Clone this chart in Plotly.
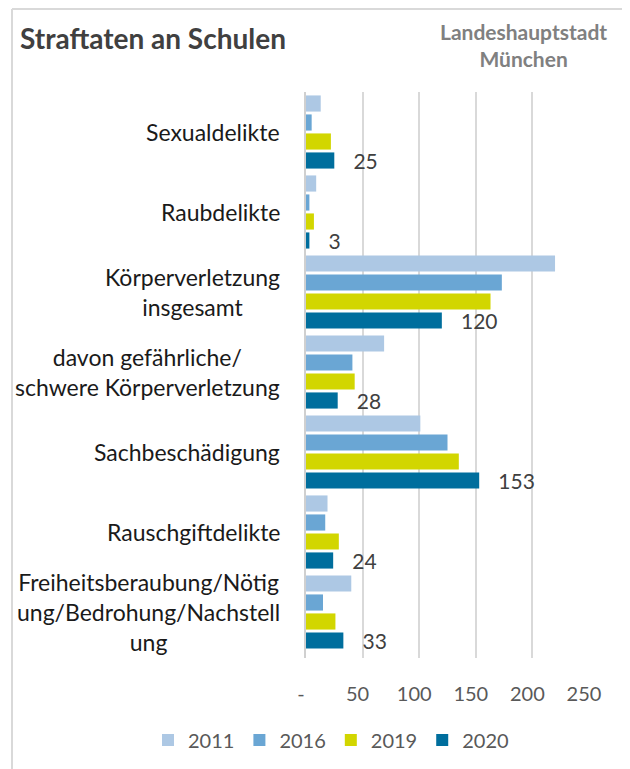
import plotly.graph_objects as go

categories = [
    "Sexualdelikte",
    "Raubdelikte",
    "Körperverletzung<br>insgesamt",
    "davon gefährliche/<br>schwere Körperverletzung",
    "Sachbeschädigung",
    "Rauschgiftdelikte",
    "Freiheitsberaubung/Nötig<br>ung/Bedrohung/Nachstell<br>ung",
]
years = ["2011", "2016", "2019", "2020"]
v2011 = [13, 9, 220, 69, 101, 19, 40]
v2016 = [5, 3, 173, 41, 125, 17, 15]
v2019 = [22, 7, 163, 43, 135, 29, 26]
v2020 = [25, 3, 120, 28, 153, 24, 33]
colors = ["#adc8e4", "#6aa6d4", "#d2d600", "#006e9d"]
x_ticks = [0, 50, 100, 150, 200, 250]
x_ticklabels = ["-", "50", "100", "150", "200", "250"]

font = "Lato, 'Noto Sans', sans-serif"

# page body has an 8px margin, so the figure starts at (8, 8) on screen
OFF = 8
FIG_W, FIG_H = 630 - OFF, 769 - OFF
# plot area in screen pixels (left, right, top, bottom)
L, R, T, B = 306, 589, 92, 658
W, H = R - L, B - T


def px(x):
    return (x - L) / W


def py(y):
    return (B - y) / H


fig = go.Figure()
for year, vals, col in zip(years, [v2011, v2016, v2019, v2020], colors):
    show_text = year == "2020"
    fig.add_trace(go.Bar(
        y=categories, x=vals, name=year, orientation="h",
        marker=dict(color=col, line=dict(width=0)),
        text=["\u00a0\u00a0\u00a0" + str(v) for v in vals] if show_text else None,
        textposition="outside" if show_text else "none",
        textfont=dict(size=21, color="#404040", family=font),
        constraintext="none",
        cliponaxis=False,
    ))

# category labels, centred lines, right-anchored like the original
for cat in categories:
    fig.add_annotation(
        x=px(282), y=cat, xref="paper", yref="y", text=cat,
        xanchor="right", yanchor="middle", align="center", showarrow=False,
        font=dict(size=23, color="#1a1a1a", family=font),
    )

fig.update_layout(
    width=FIG_W, height=FIG_H,
    margin=dict(l=L - OFF, r=FIG_W - (R - OFF), t=T - OFF, b=FIG_H - (B - OFF),
                autoexpand=False),
    paper_bgcolor="white", plot_bgcolor="white",
    barmode="group", bargap=0.05, bargroupgap=0.15,
    font=dict(family=font, color="#595959"),
    showlegend=True,
    legend=dict(
        orientation="h", x=px(148), xanchor="left", y=py(740), yanchor="middle",
        font=dict(size=20, color="#595959"), traceorder="normal",
        itemwidth=30,
    ),
)
fig.update_yaxes(
    autorange="reversed", showticklabels=False, showgrid=False,
    showline=True, linecolor="#d0d0d0", linewidth=2, zeroline=False,
    automargin=False,
)
fig.update_xaxes(
    range=[0, 250], tickvals=x_ticks, ticktext=x_ticklabels,
    showgrid=True, gridcolor="#d9d9d9", gridwidth=2, zeroline=False,
    tickfont=dict(size=20, color="#595959"), ticks="", ticklabelshift=-5,
    ticklabelstandoff=22, automargin=False,
)

# title and city name
fig.add_annotation(
    x=px(18), y=py(38), xref="paper", yref="paper",
    text="<b>Straftaten an Schulen</b>", showarrow=False,
    xanchor="left", yanchor="middle",
    font=dict(size=28, color="#404040", family=font),
)
fig.add_annotation(
    x=px(523), y=py(45), xref="paper", yref="paper",
    text="<b>Landeshauptstadt<br>München</b>", showarrow=False,
    xanchor="center", yanchor="middle", align="center",
    font=dict(size=21, color="#808080", family=font),
)

# frame: top and left edges
fig.add_shape(type="line", xref="paper", yref="paper",
              x0=px(12), x1=px(640), y0=py(9), y1=py(9),
              line=dict(color="#d9d9d9", width=2))
fig.add_shape(type="line", xref="paper", yref="paper",
              x0=px(12), x1=px(12), y0=py(9), y1=py(780),
              line=dict(color="#d9d9d9", width=2))

fig.write_html("out.html")
